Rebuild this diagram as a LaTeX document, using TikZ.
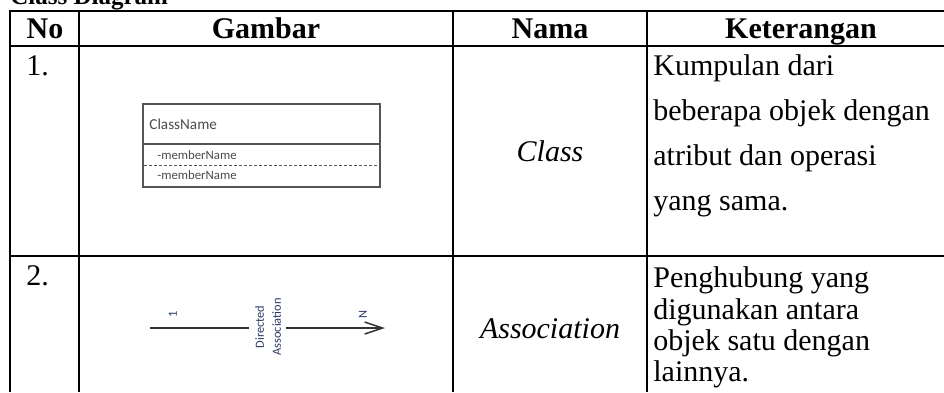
\documentclass[tikz,border=0pt]{standalone}
\usepackage{fontspec}
\setmainfont{Liberation Serif}
\newfontfamily\umlfont{Carlito}
\usetikzlibrary{arrows.meta}
\definecolor{umlgray}{HTML}{555555}
\definecolor{umltext}{HTML}{4A4A4A}
\definecolor{navyumL}{HTML}{2B3A66}
\tikzset{
  body/.style={inner sep=0pt, anchor=base west, font=\fontsize{15pt}{16pt}\selectfont},
  head/.style={inner sep=0pt, anchor=base, font=\fontsize{15pt}{16pt}\selectfont\bfseries},
  nama/.style={inner sep=0pt, anchor=base, font=\fontsize{15pt}{16pt}\selectfont\itshape},
  thickrule/.style={line width=1.2pt, black},
  thinrule/.style={line width=0.7pt, black},
  umlbox/.style={draw=umlgray, line width=0.8pt},
  umllabel/.style={inner sep=0pt, anchor=west, text=umltext, font=\umlfont\fontsize{7.6pt}{8pt}\selectfont},
  umlmember/.style={inner sep=0pt, anchor=west, text=umltext, font=\umlfont\fontsize{6.4pt}{7pt}\selectfont},
  assoclabel/.style={inner sep=0pt, rotate=90, text=navyumL, font=\umlfont\fontsize{6.2pt}{8.5pt}\selectfont, align=center},
  assocline/.style={line width=0.75pt, draw=black!80},
}
\begin{document}
\begin{tikzpicture}[x=0.5pt,y=-0.5pt]
\useasboundingbox (0,0) rectangle (944,392);
\clip (0,0) rectangle (944,392);
% title (cut off at top)
\node[inner sep=0pt, anchor=base west, font=\fontsize{12.5pt}{13pt}\selectfont\bfseries] (title) at (10,4) {Class Diagram};
% table rules
\draw[thickrule] (9,11) -- (944,11);
\draw[thickrule] (9,46) -- (944,46);
\draw[thickrule] (9,256) -- (944,256);
\draw[line width=1pt] (10,11) -- (10,392);
\draw[thinrule] (79,11) -- (79,392);
\draw[thinrule] (453,11) -- (453,392);
\draw[thinrule] (647,11) -- (647,392);
% header
\node[head] (hno) at (45,38) {No};
\node[head] (hgambar) at (266,38) {Gambar};
\node[head] (hnama) at (550,38) {Nama};
\node[head] (hket) at (801,38) {Keterangan};
% row numbers
\node[body] (n1) at (26,75) {1.};
\node[body] (n2) at (26,285) {2.};
% row 1 keterangan
\node[body] (k11) at (653,75) {Kumpulan dari};
\node[body] (k12) at (653,120) {beberapa objek dengan};
\node[body] (k13) at (653,165) {atribut dan operasi};
\node[body] (k14) at (653,210) {yang sama.};
% row 2 keterangan
\node[body] (k21) at (653,287) {Penghubung yang};
\node[body] (k22) at (653,319) {digunakan antara};
\node[body] (k23) at (653,350) {objek satu dengan};
\node[body] (k24) at (653,381) {lainnya.};
% nama
\node[nama] (nclass) at (550,161) {Class};
\node[nama] (nassoc) at (550,338) {Association};
% class box
\draw[umlbox] (143,104) rectangle (380,187);
\draw[umlbox] (143,144) -- (380,144);
\draw[draw=umlgray, line width=0.5pt, dash pattern=on 1.5pt off 1pt] (144,165) -- (379,165);
\node[umllabel] (cname) at (149,124) {ClassName};
\node[umlmember] (m1) at (157,155) {-memberName};
\node[umlmember] (m2) at (157,175) {-memberName};
% association
\coordinate (a1) at (150,328);
\coordinate (a2) at (249,328);
\coordinate (a3) at (286,328);
\coordinate (a4) at (385,328);
\draw[assocline] (a1) -- (a2);
\draw[assocline, -{Straight Barb[length=9pt,width=6pt]}] (a3) -- (a4);
\node[assoclabel] (dirassoc) at (268,327) {Directed\\Association};
\node[assoclabel] (mult1) at (173,314) {1};
\node[assoclabel] (multn) at (363,314) {N};
\end{tikzpicture}
\end{document}
